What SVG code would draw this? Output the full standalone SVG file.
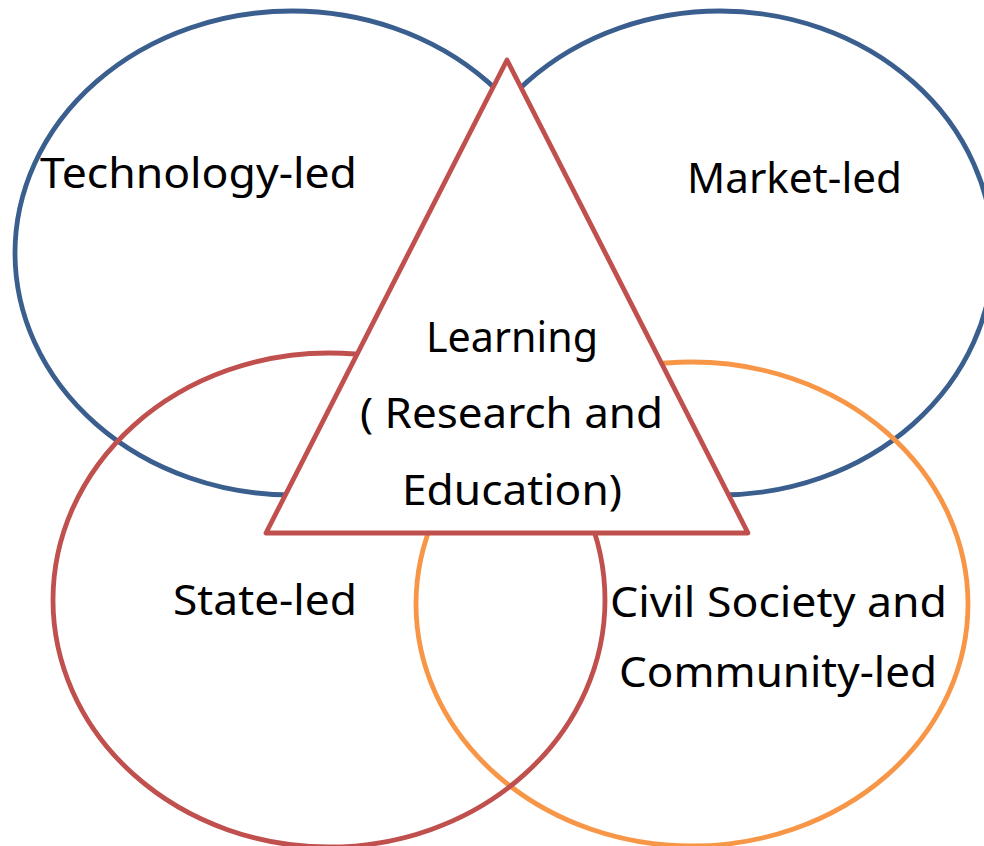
<svg xmlns="http://www.w3.org/2000/svg" width="984" height="846" viewBox="0 0 984 846">
  <style>
    .ring { fill: none; stroke-width: 4.8; }
    .blue { stroke: #3A5F8E; }
    .red { stroke: #C0504D; }
    .orange { stroke: #F79646; }
    .lbl { font-family: "Noto Sans", "Open Sans", sans-serif; font-size: 42px; fill: #000; text-anchor: middle; }
  </style>
  <rect width="984" height="846" fill="#ffffff"/>
  <g id="technology">
    <ellipse class="ring blue" cx="292" cy="253" rx="277" ry="242"/>
    <text class="lbl" x="198.5" y="188" textLength="317" lengthAdjust="spacingAndGlyphs">Technology-led</text>
  </g>
  <g id="market">
    <ellipse class="ring blue" cx="720" cy="253" rx="273" ry="242"/>
    <text class="lbl" x="794.5" y="193" textLength="215" lengthAdjust="spacingAndGlyphs">Market-led</text>
  </g>
  <g id="civil">
    <ellipse class="ring orange" cx="692" cy="604" rx="276" ry="242"/>
    <text class="lbl" x="778.5" y="617" textLength="337" lengthAdjust="spacingAndGlyphs">Civil Society and</text>
    <text class="lbl" x="778" y="687" textLength="318" lengthAdjust="spacingAndGlyphs">Community-led</text>
  </g>
  <g id="state">
    <ellipse class="ring red" cx="329" cy="600" rx="276" ry="247"/>
    <text class="lbl" x="265" y="615" textLength="184" lengthAdjust="spacingAndGlyphs">State-led</text>
  </g>
  <g id="learning">
    <polygon points="507,60 266,533 748,533" fill="#ffffff" stroke="#C0504D" stroke-width="4.8" stroke-linejoin="round"/>
    <text class="lbl" x="512" y="352" textLength="172" lengthAdjust="spacingAndGlyphs">Learning</text>
    <text class="lbl" x="511.5" y="428" textLength="303" lengthAdjust="spacingAndGlyphs">( Research and</text>
    <text class="lbl" x="512" y="505" textLength="220" lengthAdjust="spacingAndGlyphs">Education)</text>
  </g>
  <g id="connectors"></g>
</svg>
